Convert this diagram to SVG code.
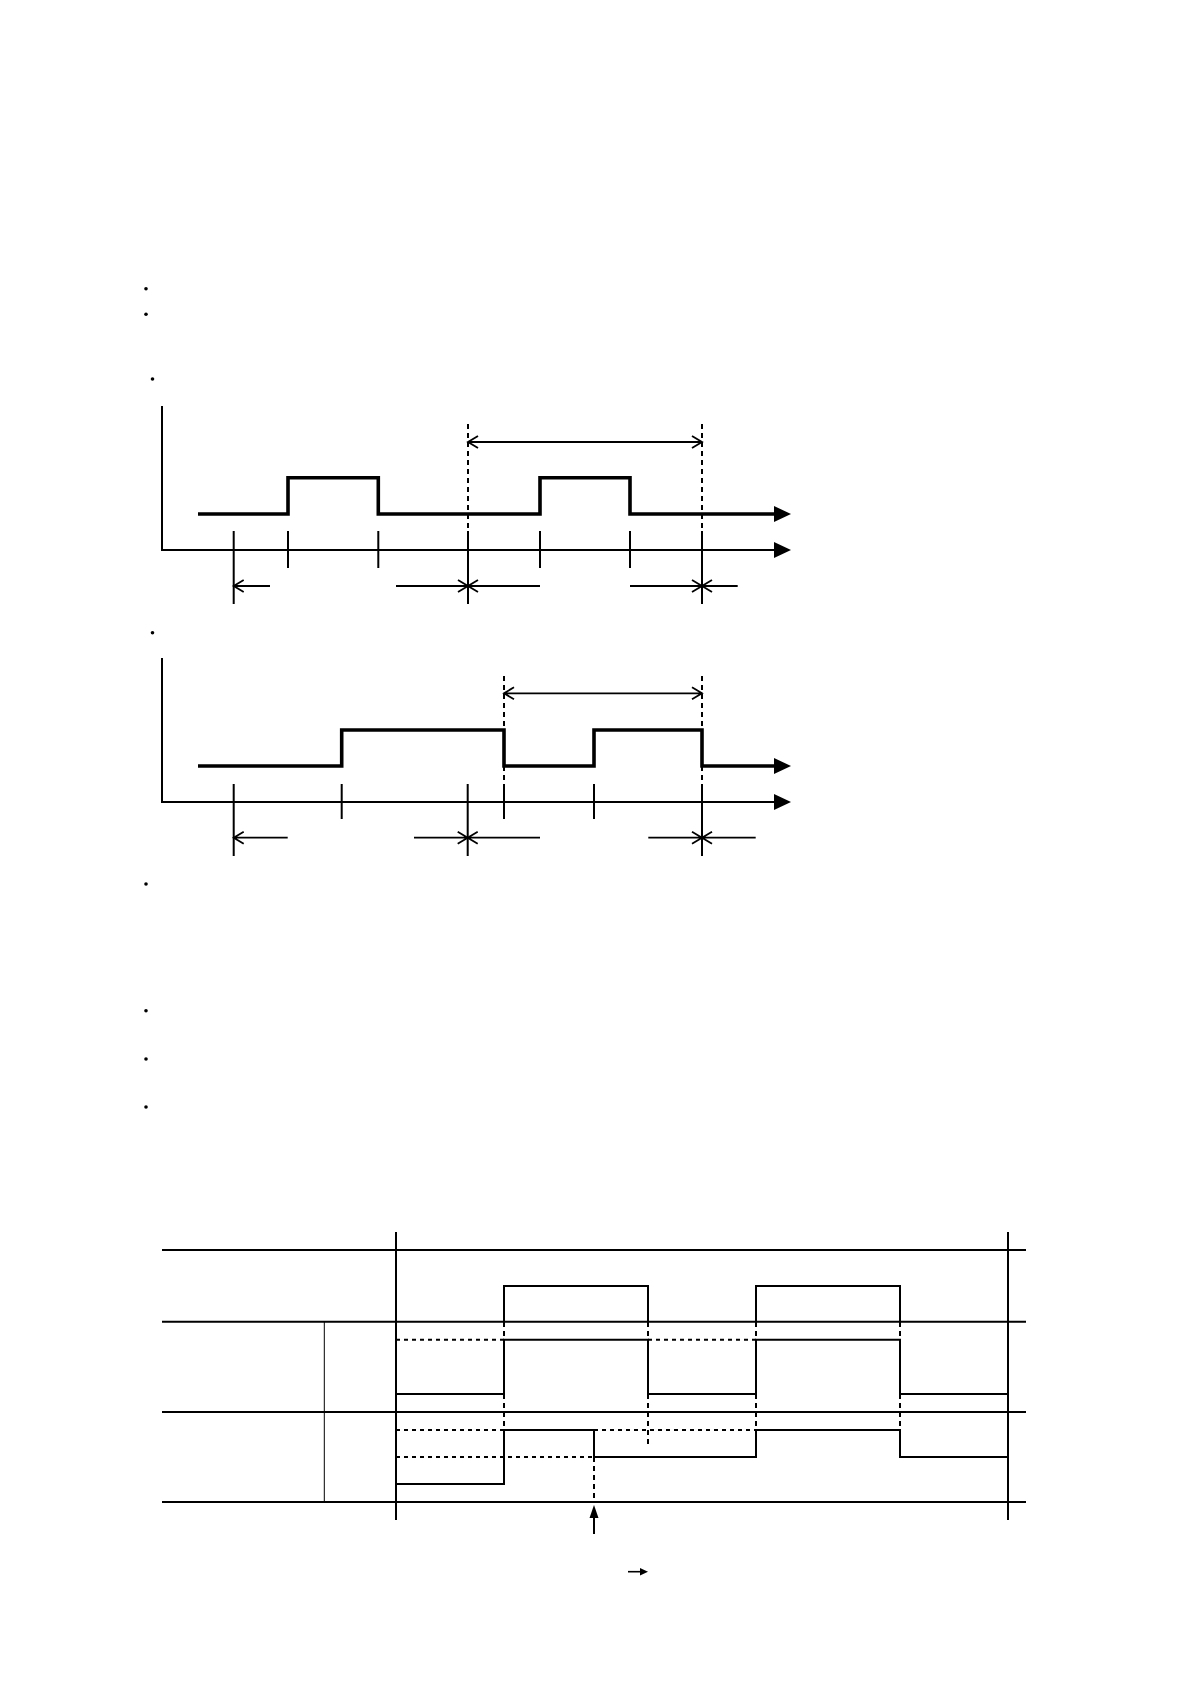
<svg xmlns="http://www.w3.org/2000/svg" width="1191" height="1684" viewBox="0 0 1191 1684">
<style>
.sig{fill:none;stroke:#000;stroke-width:3.6;stroke-linejoin:miter}
.ax{fill:none;stroke:#000;stroke-width:2}
.tk{fill:none;stroke:#000;stroke-width:2}
.dim{fill:none;stroke:#000;stroke-width:1.8}
.dash{fill:none;stroke:#000;stroke-width:2;stroke-dasharray:5 4}
.grid{fill:none;stroke:#000;stroke-width:2}
.thin{fill:none;stroke:#000;stroke-width:1}
.wave{fill:none;stroke:#000;stroke-width:2}
.dot{fill:none;stroke:#000;stroke-width:2;stroke-dasharray:4 4}
.bul{fill:#000}
.tri{fill:#000;stroke:none}
</style>
<rect width="1191" height="1684" fill="#fff"/>

<g id="bullets">
<circle class="bul" cx="146" cy="288.7" r="1.8"/>
<circle class="bul" cx="146" cy="314.3" r="1.8"/>
<circle class="bul" cx="152.5" cy="379" r="1.8"/>
<circle class="bul" cx="152.5" cy="632.7" r="1.8"/>
<circle class="bul" cx="146" cy="884" r="1.8"/>
<circle class="bul" cx="146" cy="1010.7" r="1.8"/>
<circle class="bul" cx="146" cy="1059" r="1.8"/>
<circle class="bul" cx="146" cy="1107" r="1.8"/>
</g>

<!-- Diagram 1 -->
<g id="diagram1">
<g id="d1-axes">
<path class="ax" d="M162,406 V550 H776"/>
<path class="tri" d="M774,542 L791,550 L774,558 Z"/>
</g>
<g id="d1-signal">
<path class="sig" d="M198,514 H288 V477.7 H378.3 V514 H540 V477.7 H630 V514 H776"/>
<path class="tri" d="M774,506 L791,514 L774,522 Z"/>
</g>
<g id="d1-ticks">
<path class="tk" d="M233.7,531 V604 M288,531 V568 M378.3,531 V568 M540,531 V568 M630,531 V568 M468,531 V604 M702,531 V604"/>
<path class="dash" d="M468,424 V531 M702,424 V531"/>
</g>
<g id="d1-dims">
<path class="dim" d="M468,442 H702 M478,436 L468,442 L478,448 M692,436 L702,442 L692,448"/>
<path class="dim" d="M233.7,586 H270 M243.7,580 L233.7,586 L243.7,592"/>
<path class="dim" d="M396,586 H540 M458,580 L468,586 L458,592 M478,580 L468,586 L478,592"/>
<path class="dim" d="M630,586 H737.7 M692,580 L702,586 L692,592 M712,580 L702,586 L712,592"/>
</g>
</g>

<!-- Diagram 2 -->
<g id="diagram2">
<g id="d2-axes">
<path class="ax" d="M162,658 V802 H776"/>
<path class="tri" d="M774,794 L791,802 L774,810 Z"/>
</g>
<g id="d2-signal">
<path class="sig" d="M198,766 H341.7 V730 H504 V766 H594 V730 H702 V766 H776"/>
<path class="tri" d="M774,758 L791,766 L774,774 Z"/>
</g>
<g id="d2-ticks">
<path class="tk" d="M233.7,784 V856 M341.7,784 V819 M467.7,784 V856 M504,784 V819 M594,784 V819 M702,784 V856"/>
<path class="dash" d="M504,676 V784 M702,676 V784"/>
</g>
<g id="d2-dims">
<path class="dim" d="M504,693.3 H702 M514,687.3 L504,693.3 L514,699.3 M692,687.3 L702,693.3 L692,699.3"/>
<path class="dim" d="M233.7,837.7 H287.7 M243.7,831.7 L233.7,837.7 L243.7,843.7"/>
<path class="dim" d="M414,837.7 H540 M457.7,831.7 L467.7,837.7 L457.7,843.7 M477.7,831.7 L467.7,837.7 L477.7,843.7"/>
<path class="dim" d="M648.3,837.7 H755.7 M692,831.7 L702,837.7 L692,843.7 M712,831.7 L702,837.7 L712,843.7"/>
</g>
</g>

<!-- Timing chart -->
<g id="chart">
<g id="chart-grid">
<path class="grid" d="M162,1250 H1026 M162,1321.7 H1026 M162,1412 H1026 M162,1502 H1026"/>
<path class="grid" d="M396,1232 V1520 M1008,1232 V1520"/>
<path class="thin" d="M324.3,1322 V1502"/>
</g>
<g id="chart-guides">
<path class="dash" d="M504,1322 V1430 M648,1322 V1445 M756,1322 V1430 M900,1322 V1430 M594,1457 V1502"/>
<path class="dot" d="M396,1339.7 H504 M648,1339.7 H756"/>
<path class="dot" d="M396,1430 H504 M594,1430 H756"/>
<path class="dot" d="M396,1457 H594"/>
</g>
<g id="wave-top">
<path class="wave" d="M504,1321.7 V1286 H648 V1321.7 M756,1321.7 V1286 H900 V1321.7"/>
</g>
<g id="wave-row2">
<path class="wave" d="M396,1394 H504 V1339.7 H648 V1394 H756 V1339.7 H900 V1394 H1008"/>
</g>
<g id="wave-row3">
<path class="wave" d="M396,1484 H504 V1430 H594 V1457 H756 V1430 H900 V1457 H1008"/>
</g>
<g id="marker-arrow">
<path class="wave" d="M594,1516 V1534"/>
<path class="tri" d="M594,1505 L598.5,1518 L589.5,1518 Z"/>
</g>
<g id="time-arrow">
<path class="wave" d="M628,1571.7 H642" style="stroke-width:1.6"/>
<path class="tri" d="M648,1571.7 L640,1568 L640,1575.4 Z"/>
</g>
</g>
</svg>
